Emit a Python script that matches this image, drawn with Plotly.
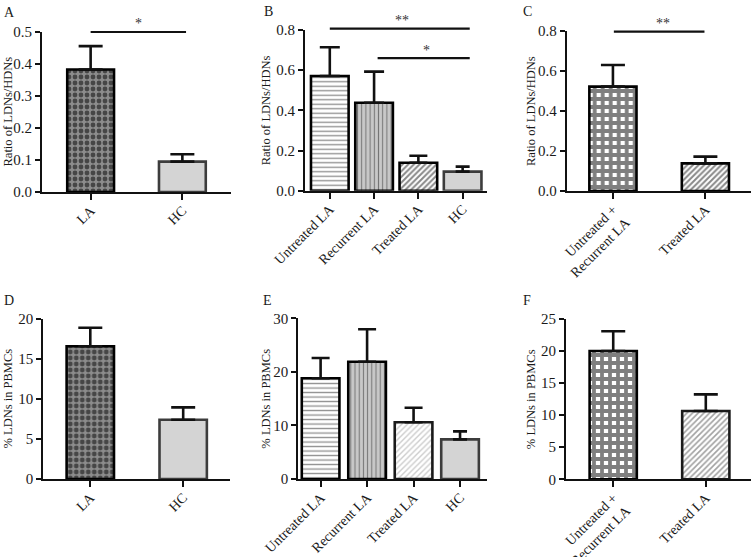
import plotly.graph_objects as go

W, H = 754, 557

# ---------------- data ----------------
a_cats = ["LA", "HC"]
a_vals = [0.383, 0.095]
a_errs = [0.073, 0.023]

b_cats = ["Untreated LA", "Recurrent LA", "Treated LA", "HC"]
b_vals = [0.571, 0.438, 0.139, 0.095]
b_errs = [0.143, 0.155, 0.035, 0.025]

c_cats = ["Untreated +<br>Recurrent LA", "Treated LA"]
c_vals = [0.522, 0.138]
c_errs = [0.108, 0.034]

d_cats = ["LA", "HC"]
d_vals = [16.6, 7.4]
d_errs = [2.3, 1.55]

e_cats = ["Untreated LA", "Recurrent LA", "Treated LA", "HC"]
e_vals = [18.8, 21.9, 10.6, 7.4]
e_errs = [3.8, 6.05, 2.7, 1.5]

f_cats = ["Untreated +<br>Recurrent LA", "Treated LA"]
f_vals = [20.0, 10.65]
f_errs = [3.1, 2.6]

# ---------------- styles ----------------
STY = {
    "check": dict(color="#8c8c8c", shape=".", fg="#000000", size=6, sol=0.5, line="#000000"),
    "grid": dict(color="#ffffff", shape="+", fg="#000000", size=8, sol=0.72, line="#000000"),
    "hline": dict(color="#ffffff", shape="-", fg="#222222", size=4.5, sol=0.3, line="#000000"),
    "vline": dict(color="#c8c8c8", shape="|", fg="#222222", size=4.2, sol=0.25, line="#000000"),
    "diag": dict(color="#ffffff", shape="/", fg="#111111", size=4, sol=0.5, line="#000000"),
    "diag2": dict(color="#ffffff", shape="/", fg="#444444", size=4, sol=0.4, line="#1a1a1a"),
    "diag3": dict(color="#ffffff", shape="/", fg="#9a9a9a", size=4, sol=0.35, line="#1a1a1a"),
    "hc": dict(color="#d4d4d4", shape="", fg="#000000", size=4, sol=0.3, line="#3c3c3c"),
}

panels = [
    dict(letter="A", cats=a_cats, vals=a_vals, errs=a_errs, ymax=0.5, dtick=0.1, fmt=".1f",
         title="Ratio of LDNs/HDNs", px=(42, 231), py=(32, 192), xr=(-0.53, 1.53), bw=0.51,
         caps=[12, 12], styles=["check", "hc"], sig=[(0, 1.04, 0.5, "*", 0.52)], lp=(2, 3), tx=7.5),
    dict(letter="B", cats=b_cats, vals=b_vals, errs=b_errs, ymax=0.8, dtick=0.2, fmt=".1f",
         title="Ratio of LDNs/HDNs", px=(305, 487), py=(30, 190.7), xr=(-0.56, 3.55), bw=0.85,
         caps=[10, 10, 9, 7], styles=["hline", "vline", "diag", "hc"],
         sig=[(0, 3.16, 0.807, "**", 1.62), (1.08, 3.16, 0.66, "*", 2.19)], lp=(262, 2), tx=266),
    dict(letter="C", cats=c_cats, vals=c_vals, errs=c_errs, ymax=0.8, dtick=0.2, fmt=".1f",
         title="Ratio of LDNs/HDNs", px=(566.7, 750.7), py=(31, 191), xr=(-0.5, 1.49), bw=0.51,
         caps=[12, 12], styles=["grid", "diag"], sig=[(0.01, 0.99, 0.797, "**", 0.54)], lp=(521, 2), tx=531),
    dict(letter="D", cats=d_cats, vals=d_vals, errs=d_errs, ymax=20, dtick=5, fmt="d",
         title="% LDNs in PBMCs", px=(43.3, 230), py=(319, 479), xr=(-0.506, 1.504), bw=0.51,
         caps=[12, 12], styles=["check", "hc"], sig=[], lp=(2, 291), tx=7.5),
    dict(letter="E", cats=e_cats, vals=e_vals, errs=e_errs, ymax=30, dtick=10, fmt="d",
         title="% LDNs in PBMCs", px=(298.3, 487), py=(318.3, 479), xr=(-0.48, 3.58), bw=0.81,
         caps=[9, 9, 9, 7], styles=["hline", "vline", "diag3", "hc"], sig=[], lp=(261, 291), tx=266),
    dict(letter="F", cats=f_cats, vals=f_vals, errs=f_errs, ymax=25, dtick=5, fmt="d",
         title="% LDNs in PBMCs", px=(566, 750.7), py=(319, 479.3), xr=(-0.51, 1.485), bw=0.51,
         caps=[12, 12], styles=["grid", "diag2"], sig=[], lp=(521, 291), tx=531),
]

FONT = "Liberation Serif, Times New Roman, serif"
TXT = "#1a1a1a"

fig = go.Figure()
layout = dict(
    width=W, height=H, margin=dict(l=0, r=0, t=0, b=0, autoexpand=False),
    paper_bgcolor="white", plot_bgcolor="rgba(0,0,0,0)",
    showlegend=False, barmode="overlay",
    font=dict(family=FONT, size=13, color=TXT),
    shapes=[], annotations=[],
)

for i, p in enumerate(panels, start=1):
    xn = "x" if i == 1 else f"x{i}"
    yn = "y" if i == 1 else f"y{i}"
    xd = [p["px"][0] / W, p["px"][1] / W]
    yd = [1 - p["py"][1] / H, 1 - p["py"][0] / H]
    for cat, val, err, sname, cap in zip(p["cats"], p["vals"], p["errs"], p["styles"], p["caps"]):
        s = STY[sname]
        fig.add_trace(go.Bar(
            x=[cat], y=[val], xaxis=xn, yaxis=yn, width=p["bw"],
            marker=dict(
                color=s["color"],
                line=dict(color=s["line"], width=2.6),
                pattern=dict(shape=s["shape"], fgcolor=s["fg"], size=s["size"],
                             solidity=s["sol"], fillmode="overlay"),
            ),
            error_y=dict(type="data", symmetric=False, array=[err], arrayminus=[0],
                         color="#111111", thickness=2.6, width=cap),
            hoverinfo="skip",
        ))
    xk = "xaxis" if i == 1 else f"xaxis{i}"
    yk = "yaxis" if i == 1 else f"yaxis{i}"
    layout[xk] = dict(
        domain=xd, anchor=yn, type="category", range=list(p["xr"]),
        categoryorder="array", categoryarray=p["cats"], automargin=False,
        showline=True, linecolor="#111111", linewidth=2, mirror=False,
        ticks="outside", ticklen=6, tickwidth=2, tickcolor="#111111",
        tickangle=-45, tickfont=dict(family=FONT, size=14, color=TXT),
        ticklabelstandoff=-3,
        showgrid=False, zeroline=False, fixedrange=True,
    )
    layout[yk] = dict(
        domain=yd, anchor=xn, range=[0, p["ymax"]], dtick=p["dtick"], tick0=0,
        tickformat=p["fmt"], automargin=False,
        showline=True, linecolor="#111111", linewidth=2,
        ticks="outside", ticklen=5, tickwidth=2, tickcolor="#111111",
        tickfont=dict(family=FONT, size=15, color=TXT),
        showgrid=False, zeroline=False, fixedrange=True,
    )
    # axis title
    layout["annotations"].append(dict(
        text=p["title"], textangle=-90, xref="paper", yref="paper",
        x=p["tx"] / W, y=(yd[0] + yd[1]) / 2, xanchor="center", yanchor="middle",
        showarrow=False, font=dict(family=FONT, size=12.5, color=TXT),
    ))
    # panel letter
    layout["annotations"].append(dict(
        text=p["letter"], xref="paper", yref="paper",
        x=p["lp"][0] / W, y=1 - p["lp"][1] / H, xanchor="left", yanchor="top",
        showarrow=False, font=dict(family=FONT, size=14, color=TXT),
    ))
    # significance bars
    for (x0, x1, yv, star, xs) in p["sig"]:
        yp = yd[0] + yv / p["ymax"] * (yd[1] - yd[0])
        layout["shapes"].append(dict(
            type="line", xref=xn, yref="paper", x0=x0, x1=x1, y0=yp, y1=yp,
            line=dict(color="#111111", width=2.2),
        ))
        layout["annotations"].append(dict(
            text=star, xref=xn, yref="paper", x=xs, y=yp, xanchor="center", yanchor="middle",
            yshift=8, showarrow=False, font=dict(family=FONT, size=14, color="#333333"),
        ))

fig.update_layout(**layout)
fig.write_html(
    "out.html",
    config={"displayModeBar": False},
    post_script="document.body.style.margin='0';document.body.style.overflow='hidden';",
)
